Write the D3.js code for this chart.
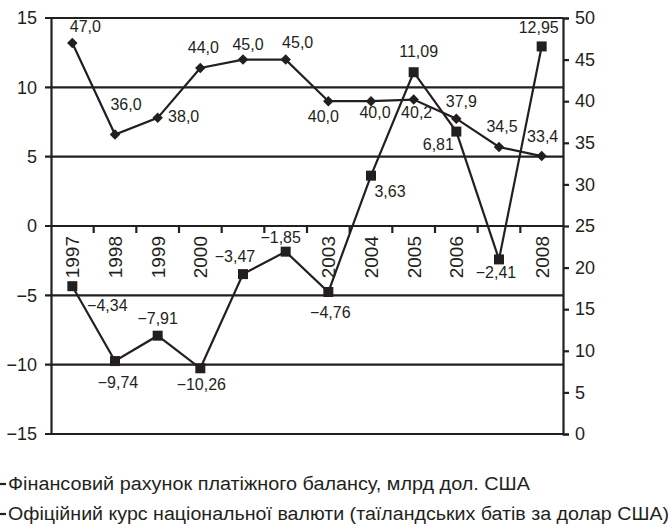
<!DOCTYPE html>
<html>
<head>
<meta charset="utf-8">
<script src="https://cdn.jsdelivr.net/npm/d3@7"></script>
<style>
  body { margin: 0; background: #fff; }
  svg { display: block; }
  text { font-family: "Liberation Sans", Arial, sans-serif; fill: #231f20; }
</style>
</head>
<body>
<div id="chart"></div>
<script>
// data
var years = ['1997','1998','1999','2000','2001','2002','2003','2004','2005','2006','2007','2008'];
var yearLabels = ['1997','1998','1999','2000','','','2003','2004','2005','2006','','2008'];
var finance = [-4.34, -9.74, -7.91, -10.26, -3.47, -1.85, -4.76, 3.63, 11.09, 6.81, -2.41, 12.95];
var rate = [47.0, 36.0, 38.0, 44.0, 45.0, 45.0, 40.0, 40.0, 40.2, 37.9, 34.5, 33.4];
var leftTicks = [-15, -10, -5, 0, 5, 10, 15];
var rightTicks = [0, 5, 10, 15, 20, 25, 30, 35, 40, 45, 50];
var legendLabels = [
    'Фінансовий рахунок платіжного балансу, млрд дол. США',
    'Офіційний курс національної валюти (таїландських батів за долар США)'
];

// where each value label sits relative to its marker [dx, dy]
var financeLabelOffsets = [[35,25],[3,27],[0,-12],[1,22],[-8,-12],[-5,-9],[2,26],[19,21],[5,-15],[-18,18],[-3,19],[-3,-13]];
var rateLabelOffsets = [[13,-11],[11,-24],[26,4],[3,-15],[5,-10],[12,-12],[-5,21],[4,17],[3,18],[5,-12],[3,-15],[1,-14]];

var width = 672, height = 529;
var margin = {top: 18, left: 51, right: 109, bottom: 95};
var ink = '#231f20';

var locale = d3.formatLocale({decimal: ',', thousands: ' ', grouping: [3], minus: '\u2212'});
var fmt2 = locale.format('.2f'),
    fmt1 = locale.format('.1f'),
    fmt0 = locale.format('d');

var svg = d3.select('#chart').append('svg')
    .attr('width', width)
    .attr('height', height);

var x = d3.scaleBand()
    .domain(years)
    .range([margin.left, width - margin.right]);
var yL = d3.scaleLinear()
    .domain([-15, 15])
    .range([height - margin.bottom, margin.top]);
var yR = d3.scaleLinear()
    .domain([0, 50])
    .range([height - margin.bottom, margin.top]);

function cx(d, i) { return x(years[i]) + x.bandwidth() / 2; }

// horizontal grid lines
svg.append('g').selectAll('line')
    .data(leftTicks)
    .enter().append('line')
    .attr('x1', margin.left - 6)
    .attr('x2', width - margin.right)
    .attr('y1', function (d) { return yL(d); })
    .attr('y2', function (d) { return yL(d); })
    .attr('stroke', ink)
    .attr('stroke-width', 2.2);

// left axis
var leftAxis = d3.axisLeft(yL).tickValues(leftTicks).tickSize(0).tickPadding(14).tickFormat(fmt0);
var gL = svg.append('g')
    .attr('transform', 'translate(' + margin.left + ',0)')
    .call(leftAxis);
gL.select('.domain').attr('stroke', ink).attr('stroke-width', 2.2);
gL.selectAll('text').style('font-size', '18px').attr('fill', ink);

// right axis
var rightAxis = d3.axisRight(yR).tickValues(rightTicks).tickSize(6).tickPadding(6).tickFormat(fmt0);
var gR = svg.append('g')
    .attr('transform', 'translate(' + (width - margin.right) + ',0)')
    .call(rightAxis);
gR.select('.domain').attr('stroke', ink).attr('stroke-width', 2.2);
gR.selectAll('.tick line').attr('stroke', ink).attr('stroke-width', 2.2);
gR.selectAll('text').style('font-size', '18px').attr('fill', ink);

// ticks under the zero line between years
svg.append('g').selectAll('line')
    .data(years.slice(0, -1))
    .enter().append('line')
    .attr('x1', function (d) { return x(d) + x.bandwidth(); })
    .attr('x2', function (d) { return x(d) + x.bandwidth(); })
    .attr('y1', yL(0))
    .attr('y2', yL(0) + 7)
    .attr('stroke', ink)
    .attr('stroke-width', 2.2);

// year labels, rotated
svg.append('g').selectAll('text')
    .data(yearLabels)
    .enter().append('text')
    .attr('transform', function (d, i) {
        return 'translate(' + cx(d, i) + ',' + (yL(0) + 10) + ') rotate(-90)';
    })
    .attr('text-anchor', 'end')
    .attr('dy', '0.36em')
    .style('font-size', '19px')
    .text(function (d) { return d; });

// exchange rate line (diamonds)
var lineR = d3.line()
    .x(cx)
    .y(function (d) { return yR(d); });
svg.append('path')
    .datum(rate)
    .attr('d', lineR)
    .attr('fill', 'none')
    .attr('stroke', ink)
    .attr('stroke-width', 2.2);

svg.append('g').selectAll('path')
    .data(rate)
    .enter().append('path')
    .attr('d', d3.symbol().type(d3.symbolDiamond2).size(70))
    .attr('transform', function (d, i) { return 'translate(' + cx(d, i) + ',' + yR(d) + ')'; })
    .attr('fill', ink);

// finance line (squares)
var lineL = d3.line()
    .x(cx)
    .y(function (d) { return yL(d); });
svg.append('path')
    .datum(finance)
    .attr('d', lineL)
    .attr('fill', 'none')
    .attr('stroke', ink)
    .attr('stroke-width', 2.2);

svg.append('g').selectAll('path')
    .data(finance)
    .enter().append('path')
    .attr('d', d3.symbol().type(d3.symbolSquare).size(100))
    .attr('transform', function (d, i) { return 'translate(' + cx(d, i) + ',' + yL(d) + ')'; })
    .attr('fill', ink);

// value labels
svg.append('g').selectAll('text')
    .data(rate)
    .enter().append('text')
    .attr('x', function (d, i) { return cx(d, i) + rateLabelOffsets[i][0]; })
    .attr('y', function (d, i) { return yR(d) + rateLabelOffsets[i][1]; })
    .attr('text-anchor', 'middle')
    .style('font-size', '16px')
    .text(function (d) { return fmt1(d); });

svg.append('g').selectAll('text')
    .data(finance)
    .enter().append('text')
    .attr('x', function (d, i) { return cx(d, i) + financeLabelOffsets[i][0]; })
    .attr('y', function (d, i) { return yL(d) + financeLabelOffsets[i][1]; })
    .attr('text-anchor', 'middle')
    .style('font-size', '16px')
    .text(function (d) { return fmt2(d); });

// legend
var legend = svg.append('g').selectAll('g')
    .data(legendLabels)
    .enter().append('g')
    .attr('transform', function (d, i) { return 'translate(0,' + (484 + i * 30) + ')'; });
legend.append('line')
    .attr('x1', 0).attr('x2', 6)
    .attr('stroke', ink)
    .attr('stroke-width', 2.2);
legend.append('text')
    .attr('x', 8)
    .attr('dy', '0.36em')
    .style('font-size', '18px')
    .attr('textLength', function (d, i) { return i === 0 ? 522 : 661; })
    .attr('lengthAdjust', 'spacingAndGlyphs')
    .text(function (d) { return d; });
</script>
</body>
</html>
